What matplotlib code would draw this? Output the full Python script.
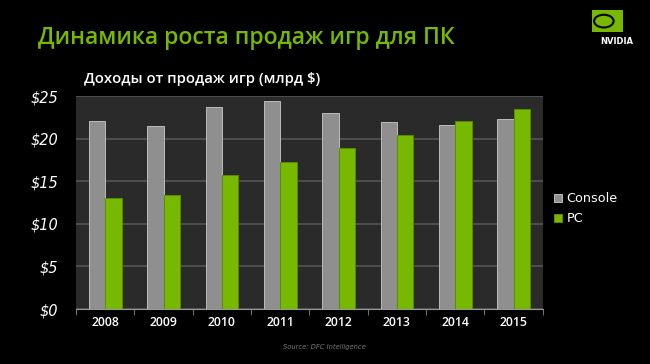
import numpy as np
import matplotlib
matplotlib.use("Agg")
import matplotlib.pyplot as plt
from matplotlib.patches import Rectangle, Ellipse

years = ["2008", "2009", "2010", "2011", "2012", "2013", "2014", "2015"]
console = [22.1, 21.5, 23.7, 24.4, 23.0, 22.0, 21.6, 22.3]
pc = [13.0, 13.4, 15.7, 17.3, 18.9, 20.4, 22.1, 23.5]
yticks = [0, 5, 10, 15, 20, 25]
ytick_labels = ["$0", "$5", "$10", "$15", "$20", "$25"]

green = "#76b900"
gray = "#8f8f8f"

fig = plt.figure(figsize=(6.5, 3.64), dpi=100)
fig.patch.set_facecolor("black")

ax = fig.add_axes([0.117, 0.151, 0.718, 0.585])
ax.set_facecolor("#2a2a2a")

x = np.arange(len(years))
w = 0.28
ax.bar(x - w / 2, console, width=w, color=gray, edgecolor="#bdbdbd", linewidth=0.7, label="Console", zorder=3)
ax.bar(x + w / 2, pc, width=w, color=green, edgecolor="#5a8c00", linewidth=0.7, label="PC", zorder=3)

ax.set_xlim(-0.5, len(years) - 0.5)
ax.set_ylim(0, 25)
ax.set_yticks(yticks)
ax.set_yticklabels(ytick_labels, fontsize=10.5, style="italic", color="white", family="DejaVu Sans")
ax.set_xticks(x)
ax.set_xticklabels(years, fontsize=8.8, color="white", family="Open Sans", weight="semibold")
ax.set_xticks(np.arange(len(years) + 1) - 0.5, minor=True)
ax.tick_params(axis="y", length=0, pad=13)
ax.tick_params(axis="x", which="major", length=0, pad=5)
ax.tick_params(axis="x", which="minor", length=4, color="#888888")
ax.yaxis.grid(True, color="#555555", linewidth=1.2, zorder=0)
for s in ["top", "right", "left"]:
    ax.spines[s].set_visible(False)
ax.spines["bottom"].set_color("#999999")

leg = ax.legend(loc="center left", bbox_to_anchor=(1.0, 0.47), frameon=False,
                fontsize=9.2, labelcolor="white", handlelength=0.6, handleheight=0.6,
                handletextpad=0.35, borderaxespad=0.5, labelspacing=0.55)

fig.text(0.058, 0.895, "Динамика роста продаж игр для ПК", color=green, fontsize=16.6,
         family="Open Sans", weight="semibold", va="center", ha="left")
fig.text(0.13, 0.783, "Доходы от продаж игр (млрд $)", color="white", fontsize=10.7,
         family="Open Sans", weight="semibold", va="center", ha="left")
fig.text(0.4995, 0.047, "Source: DFC Intelligence", color="#777777", fontsize=4.9,
         style="italic", ha="center", va="center")

# NVIDIA logo
fig.patches.append(Rectangle((0.911, 0.912), 0.048, 0.06, transform=fig.transFigure,
                             facecolor=green, edgecolor="none"))
fig.patches.append(Ellipse((0.929, 0.942), 0.03, 0.035, transform=fig.transFigure,
                           facecolor="none", edgecolor="black", linewidth=1.5))
fig.text(0.949, 0.885, "NVIDIA", color="white", fontsize=6, weight="bold",
         ha="center", va="center")

fig.savefig("out.png", dpi=100, facecolor=fig.get_facecolor())
